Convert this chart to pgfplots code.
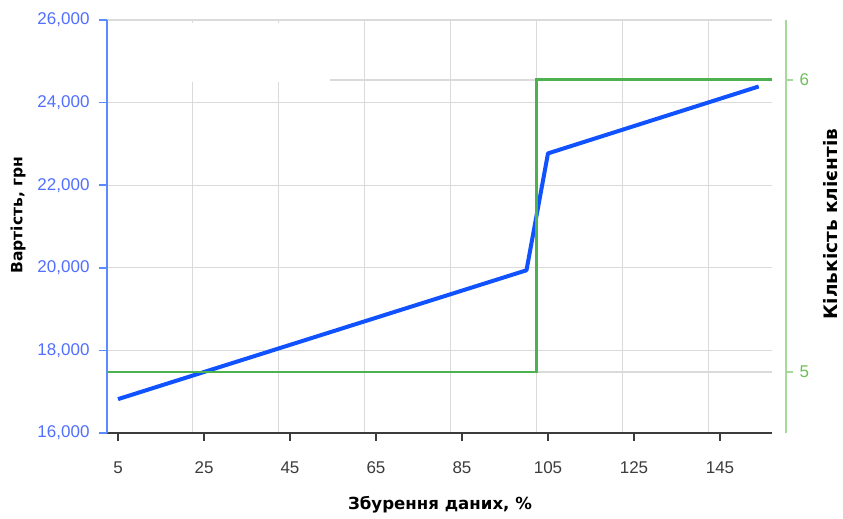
\documentclass[border=0pt]{standalone}
\usepackage{pgfplots}
\pgfplotsset{compat=1.18}
\usepackage{fontspec}
\setmainfont{Liberation Sans}
\newfontfamily\labelfont{DejaVu Sans}

\definecolor{costblue}{RGB}{16,82,255}
\definecolor{clientgreen}{RGB}{76,178,80}
\definecolor{leftaxis}{RGB}{90,140,255}
\definecolor{leftlabel}{RGB}{80,110,255}
\definecolor{rightaxis}{RGB}{165,218,155}
\definecolor{rightlabel}{RGB}{110,190,90}
\definecolor{axisgray}{RGB}{60,60,60}
\definecolor{gridgray}{RGB}{218,218,218}

\newcommand{\tickfont}{\fontsize{17}{20}\selectfont}

\begin{document}
\begin{tikzpicture}[x=1pt,y=1pt]
\path[use as bounding box] (0,0) rectangle (843,519);

% cost axis (left)
\begin{axis}[
  at={(107pt,86pt)}, anchor=south west,
  scale only axis, width=665pt, height=413pt,
  xmin=2.44, xmax=157.1, ymin=16000, ymax=26000,
  axis x line*=bottom, axis y line*=left,
  x axis line style={draw=axisgray, line width=2pt, -},
  y axis line style={draw=leftaxis, line width=2pt, -},
  xtick={5,25,...,145},
  minor xtick={22.4,42.4,62.4,82.4,102.4,122.4,142.4},
  ytick={16000,18000,...,26000},
  xmajorgrids=false, xminorgrids=true, ymajorgrids=true,
  tick align=outside, major tick length=8pt, minor tick length=0pt,
  grid style={draw=gridgray, line width=1.3pt},
  minor grid style={draw=gridgray, line width=1.3pt},
  xtick style={draw=axisgray, line width=1.5pt},
  ytick style={draw=leftaxis, line width=1.5pt},
  scaled y ticks=false,
  /pgf/number format/assume math mode=true,
  yticklabel style={text=leftlabel, font=\tickfont, xshift=-6pt,
    /pgf/number format/.cd, fixed, precision=0, 1000 sep={,}},
  xticklabel style={text=axisgray, font=\tickfont, yshift=-17pt},
]
  \addplot[costblue, line width=4pt, no markers, line join=round]
    coordinates {(5,16820) (100,19940) (105,22770) (154,24390)};
\end{axis}

% client count axis (right), its line set 14pt out from the plot area
\begin{axis}[
  at={(107pt,86pt)}, anchor=south west,
  scale only axis, width=665pt, height=413pt,
  xmin=2.44, xmax=157.1, ymin=4.791, ymax=6.205,
  axis x line=none, axis y line*=right,
  y axis line style={draw=rightaxis, line width=2pt, -, xshift=14pt},
  ytick={5,6},
  tick align=outside, major tick length=7pt,
  ytick style={draw=rightaxis, line width=1.3pt, xshift=14pt},
  /pgf/number format/assume math mode=true,
  yticklabel style={text=rightlabel, font=\tickfont, xshift=17pt},
]
  % grid lines of the client count scale
  \draw[gridgray, line width=1.3pt] (axis cs:2.44,5) -- (axis cs:157.1,5);
  \draw[gridgray, line width=1.3pt] (axis cs:54.3,6) -- (axis cs:157.1,6);
  % blank panel in the upper left corner of the plot area
  \fill[white] (axis cs:2.9,6.195) rectangle (axis cs:54.3,5.993);
  \addplot[clientgreen, line width=2.8pt, no markers]
    coordinates {(2.44,5) (102.4,5) (102.4,6) (157.1,6)};
\end{axis}

\node[font=\labelfont\bfseries\fontsize{16.6}{20}\selectfont, text=black]
  at (440,14) {Збурення даних, \%};
\node[font=\labelfont\bfseries\fontsize{15.5}{18}\selectfont, text=black, rotate=90]
  at (18,304) {Вартість, грн};
\node[font=\labelfont\bfseries\fontsize{18.5}{22}\selectfont, text=black, rotate=90, inner sep=0pt]
  at (831,295) {Кількість клієнтів};
\end{tikzpicture}
\end{document}
